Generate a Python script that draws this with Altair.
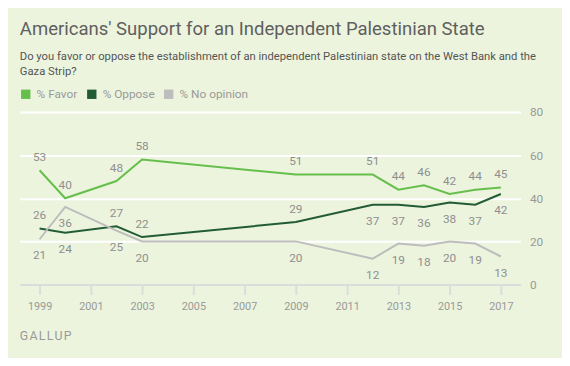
import altair as alt
import pandas as pd

years = [1999, 2000, 2002, 2003, 2009, 2012, 2013, 2014, 2015, 2016, 2017]
favor = [53, 40, 48, 58, 51, 51, 44, 46, 42, 44, 45]
oppose = [26, 24, 27, 22, 29, 37, 37, 36, 38, 37, 42]
no_opinion = [21, 36, 25, 20, 20, 12, 19, 18, 20, 19, 13]

favor_pos = ["above"] * 11
oppose_pos = ["above", "below", "above", "above", "above", "below", "below", "below", "below", "below", "below"]
noop_pos = ["below"] * 11

series = ["% Favor", "% Oppose", "% No opinion"]
colors = ["#66bf4c", "#225c36", "#bdbdbd"]
x_ticks = [1999, 2001, 2003, 2005, 2007, 2009, 2011, 2013, 2015, 2017]
y_ticks = [0, 20, 40, 60, 80]

title = "Americans' Support for an Independent Palestinian State"
subtitle = ["Do you favor or oppose the establishment of an independent Palestinian state on the West Bank and the",
            "Gaza Strip?"]
source = "G\u200aA\u200aL\u200aL\u200aU\u200aP"

rows = []
for name, vals, pos in [(series[0], favor, favor_pos), (series[1], oppose, oppose_pos), (series[2], no_opinion, noop_pos)]:
    for y, v, p in zip(years, vals, pos):
        rows.append({"year": y, "value": v, "series": name, "pos": p})
df = pd.DataFrame(rows)

FONT = "Roboto"
W, H = 508, 175

xenc = alt.X("year:Q",
             scale=alt.Scale(domain=[1998.23, 2017.77], nice=False, zero=False),
             axis=alt.Axis(values=x_ticks, format="d", title=None, grid=False,
                           domainColor="#dcdcdc", domainWidth=2, tickColor="#dcdcdc",
                           tickWidth=2, tickSize=10, labelColor="#999999", labelFontSize=11,
                           labelFont=FONT, labelPadding=6, zindex=1))
yenc = alt.Y("value:Q",
             scale=alt.Scale(domain=[0, 80], nice=False),
             axis=alt.Axis(values=y_ticks, orient="right", title=None, domain=False, ticks=False,
                           gridColor="#ffffff", gridWidth=2, labelColor="#999999",
                           labelFontSize=12, labelFont=FONT, labelPadding=9, labelAlign="left"))
cscale = alt.Scale(domain=series, range=colors)

base = alt.Chart(df)

squares = base.mark_square(size=0, filled=True, opacity=1).encode(
    x=xenc, y=yenc,
    color=alt.Color("series:N", scale=cscale,
                    legend=alt.Legend(title=None, orient="none", legendX=0, legendY=-24,
                                      direction="horizontal", symbolType="square",
                                      symbolSize=90, symbolStrokeWidth=0,
                                      labelFontSize=12, labelColor="#999999", labelFont=FONT,
                                      labelOffset=5, columnPadding=8)),
)

lines = base.mark_line(strokeWidth=2).encode(
    x="year:Q", y="value:Q",
    color=alt.Color("series:N", scale=cscale, legend=None),
    order=alt.Order("year:Q"),
)

above = base.transform_filter(alt.datum.pos == "above").mark_text(
    dy=-13.5, fontSize=12, font=FONT, color="#8f8f8f", baseline="middle").encode(
    x="year:Q", y="value:Q", text="value:Q")
below = base.transform_filter(alt.datum.pos == "below").mark_text(
    dy=16.5, fontSize=12, font=FONT, color="#8f8f8f", baseline="middle").encode(
    x="year:Q", y="value:Q", text="value:Q")

title_t = alt.Chart(pd.DataFrame({"t": [title]})).mark_text(
    align="left", baseline="alphabetic", fontSize=18.8, font=FONT, color="#5f5f5f").encode(
    text="t:N", x=alt.value(0), y=alt.value(-77.7))
sub_t = alt.Chart(pd.DataFrame({"t": [0]})).mark_text(
    align="left", baseline="alphabetic", fontSize=11.4, font=FONT, color="#555555",
    lineHeight=15, text=subtitle).encode(x=alt.value(0), y=alt.value(-52.3))
src_t = alt.Chart(pd.DataFrame({"t": [source]})).mark_text(
    align="left", baseline="alphabetic", fontSize=12.5, font=FONT, color="#999999").encode(
    text="t:N", x=alt.value(0), y=alt.value(231.3))

chart = alt.layer(squares, lines, above, below, title_t, sub_t, src_t).resolve_legend(
    color="independent"
).properties(
    width=W, height=H,
    autosize=alt.AutoSizeParams(type="none"),
    padding={"left": 12, "top": 103, "right": 42, "bottom": 72},
    background="#ecf4de",
).configure_view(stroke=None)

chart.save("out.html", embed_options={"renderer": "svg", "actions": False})
